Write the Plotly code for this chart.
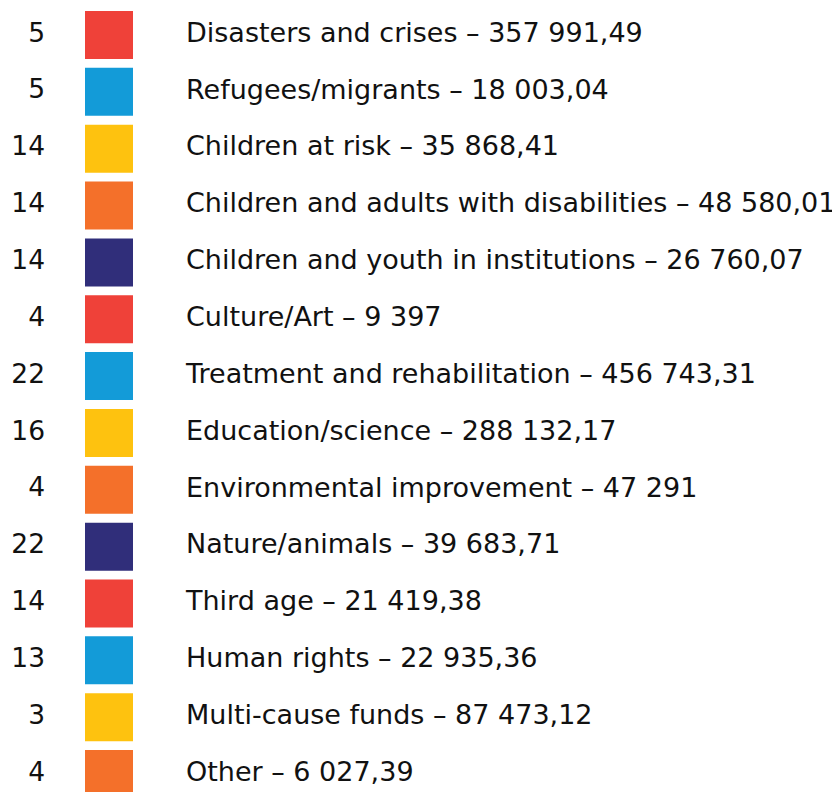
import plotly.graph_objects as go

counts = [5, 5, 14, 14, 14, 4, 22, 16, 4, 22, 14, 13, 3, 4]
causes = [
    "Disasters and crises", "Refugees/migrants", "Children at risk",
    "Children and adults with disabilities", "Children and youth in institutions",
    "Culture/Art", "Treatment and rehabilitation", "Education/science",
    "Environmental improvement", "Nature/animals", "Third age",
    "Human rights", "Multi-cause funds", "Other",
]
amounts = ["357 991,49", "18 003,04", "35 868,41", "48 580,01", "26 760,07",
           "9 397", "456 743,31", "288 132,17", "47 291", "39 683,71",
           "21 419,38", "22 935,36", "87 473,12", "6 027,39"]
palette = ["#EF4139", "#139BD8", "#FEC20F", "#F4702A", "#302E7A"]

rows = list(range(len(causes)))
colors = [palette[i % 5] for i in rows]
labels = [f"{c} – {a}" for c, a in zip(causes, amounts)]

FONT = "DejaVu Sans"
fig = go.Figure()
fig.add_trace(go.Scatter(
    x=[37] * len(rows), y=rows, mode="text", text=[str(c) for c in counts],
    textposition="middle left", textfont=dict(family=FONT, size=26.5, color="#111111"),
    hoverinfo="skip", showlegend=False))
fig.add_trace(go.Scatter(
    x=[101] * len(rows), y=rows, mode="markers",
    marker=dict(symbol="square", size=48, color=colors, line=dict(width=0)),
    hovertext=labels, hoverinfo="text", showlegend=False))
fig.add_trace(go.Scatter(
    x=[178] * len(rows), y=rows, mode="text", text=labels,
    textposition="middle right", textfont=dict(family=FONT, size=27, color="#111111"),
    hoverinfo="skip", showlegend=False))

pitch = 56.85
top = -27 / pitch
bottom = (792 - 27) / pitch
fig.update_layout(
    width=840, height=792, margin=dict(l=0, r=0, t=0, b=0),
    paper_bgcolor="white", plot_bgcolor="white",
    xaxis=dict(range=[0, 840], visible=False, fixedrange=True),
    yaxis=dict(range=[bottom, top], visible=False, fixedrange=True),
)
fig.write_html("out.html")
